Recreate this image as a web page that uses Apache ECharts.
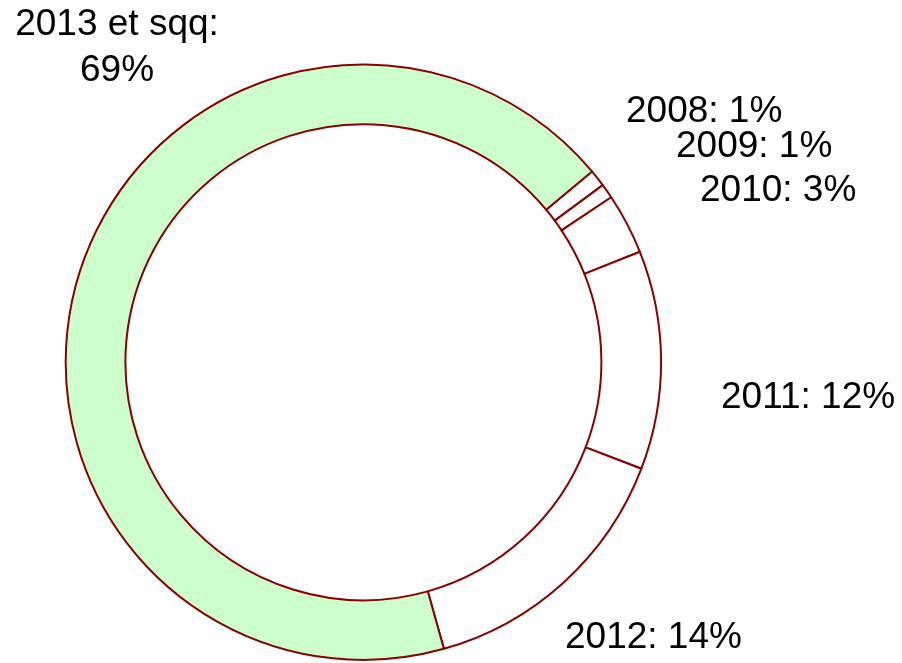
<!DOCTYPE html>
<html>
<head>
<meta charset="utf-8">
<script src="https://cdn.jsdelivr.net/npm/echarts@6/dist/echarts.min.js"></script>
<style>
html,body{margin:0;padding:0;background:#fff;}
#chart{width:902px;height:663px;}
</style>
</head>
<body>
<div id="chart"></div>
<script>
// Data
var categories = ['2008', '2009', '2010', '2011', '2012', '2013 et sqq'];
var shares = [0.93, 0.79, 3.30, 11.87, 14.82, 68.29];      // slice sizes (measured angles)
var shownPercents = ['1%', '1%', '3%', '12%', '14%', '69%']; // label text as printed

// Styling / layout (kept apart from data)
var fills = ['#ffffff', '#ffffff', '#ffffff', '#ffffff', '#ffffff', '#ccffcc'];
var labelAnchors = {
  '2008': {x: 626, y: 111.5, align: 'left'},
  '2009': {x: 676, y: 146.5, align: 'left'},
  '2010': {x: 700, y: 191, align: 'left'},
  '2011': {x: 721, y: 398, align: 'left'},
  '2012': {x: 565, y: 637.5, align: 'left'},
  '2013 et sqq': {x: 117, y: 48, align: 'center'}
};

var seriesData = categories.map(function (c, i) {
  return {name: c, value: shares[i], itemStyle: {color: fills[i]}};
});

var chart = echarts.init(document.getElementById('chart'), null, {renderer: 'canvas'});
chart.setOption({
  animation: false,
  backgroundColor: '#ffffff',
  series: [{
    type: 'pie',
    center: [363.4, 362.2],
    radius: [238, 297.7],
    startAngle: 39.84,
    clockwise: true,
    avoidLabelOverlap: false,
    itemStyle: {borderColor: '#8b0000', borderWidth: 2},
    emphasis: {disabled: true},
    label: {
      show: true,
      position: 'outside',
      fontFamily: 'Liberation Sans, Arial, sans-serif',
      fontSize: 37,
      lineHeight: 46,
      color: '#000000',
      formatter: function (p) {
        var sep = p.name === '2013 et sqq' ? ':\n' : ': ';
        return p.name + sep + shownPercents[p.dataIndex];
      }
    },
    labelLine: {show: false},
    labelLayout: function (params) {
      var a = labelAnchors[categories[params.dataIndex]];
      return {x: a.x, y: a.y, align: a.align, verticalAlign: 'middle'};
    },
    data: seriesData
  }]
});
</script>
</body>
</html>
